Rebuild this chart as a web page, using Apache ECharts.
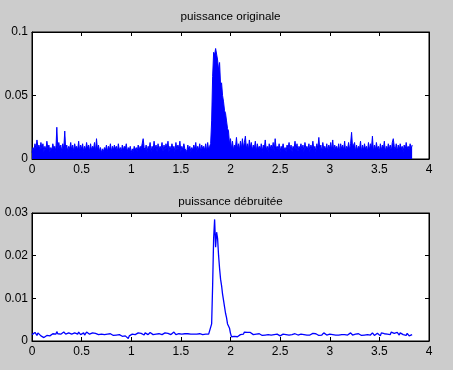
<!DOCTYPE html>
<html>
<head>
<meta charset="utf-8">
<script src="https://cdn.jsdelivr.net/npm/echarts@6/dist/echarts.min.js"></script>
<style>
html,body{margin:0;padding:0;background:#cccccc;}
#chart{width:453px;height:370px;}
</style>
</head>
<body>
<div id="chart"></div>
<script>
// Sample step along the x axis
const xStep = 0.01;

// Titles
const topTitle = 'puissance originale';
const bottomTitle = 'puissance débruitée';

// Tick settings
const xTicks = [0, 0.5, 1, 1.5, 2, 2.5, 3, 3.5, 4];
const topYTicks = [0, 0.05, 0.1];
const bottomYTicks = [0, 0.01, 0.02, 0.03];

// Original power (one value per 0.01 in x, from 0 to 3.83)
const originalPower = [
0.005,0.009,0.007,0.012,0.008,0.015,0.009,0.011,0.007,0.013,
0.008,0.012,0.006,0.010,0.007,0.014,0.008,0.011,0.006,0.009,
0.007,0.012,0.008,0.010,0.006,0.025,0.007,0.013,0.008,0.011,
0.006,0.012,0.008,0.022,0.007,0.011,0.006,0.010,0.008,0.013,
0.007,0.011,0.006,0.012,0.008,0.010,0.007,0.014,0.006,0.011,
0.008,0.012,0.006,0.010,0.007,0.013,0.008,0.011,0.006,0.012,
0.007,0.010,0.008,0.013,0.006,0.016,0.007,0.011,0.006,0.009,
0.005,0.008,0.006,0.009,0.007,0.011,0.006,0.010,0.007,0.012,
0.006,0.010,0.007,0.011,0.008,0.010,0.006,0.012,0.007,0.009,
0.006,0.011,0.007,0.010,0.008,0.012,0.006,0.009,0.007,0.010,
0.005,0.008,0.006,0.010,0.007,0.009,0.006,0.011,0.007,0.010,
0.008,0.012,0.016,0.009,0.007,0.011,0.006,0.010,0.008,0.013,
0.006,0.010,0.007,0.014,0.008,0.011,0.006,0.012,0.007,0.010,
0.008,0.013,0.006,0.011,0.007,0.012,0.008,0.014,0.006,0.010,
0.007,0.012,0.008,0.010,0.006,0.013,0.007,0.011,0.008,0.014,
0.006,0.010,0.007,0.012,0.008,0.009,0.006,0.011,0.007,0.010,
0.006,0.009,0.007,0.011,0.008,0.013,0.006,0.010,0.007,0.012,
0.006,0.011,0.008,0.010,0.007,0.012,0.006,0.013,0.007,0.010,
0.012,0.030,0.065,0.084,0.082,0.087,0.088,0.078,0.070,0.076,
0.058,0.060,0.050,0.045,0.038,0.036,0.030,0.024,0.022,0.012,
0.016,0.008,0.014,0.007,0.011,0.009,0.017,0.008,0.012,0.007,
0.014,0.008,0.016,0.009,0.013,0.018,0.008,0.012,0.007,0.015,
0.009,0.013,0.007,0.011,0.008,0.014,0.006,0.012,0.008,0.010,
0.007,0.012,0.006,0.011,0.008,0.015,0.007,0.010,0.006,0.012,
0.008,0.011,0.007,0.013,0.006,0.016,0.008,0.010,0.007,0.012,
0.006,0.010,0.008,0.012,0.007,0.009,0.006,0.011,0.008,0.013,
0.007,0.011,0.006,0.010,0.008,0.014,0.007,0.012,0.006,0.010,
0.008,0.012,0.007,0.011,0.006,0.013,0.008,0.010,0.007,0.012,
0.006,0.011,0.008,0.014,0.007,0.010,0.006,0.012,0.008,0.017,
0.007,0.011,0.006,0.013,0.008,0.010,0.007,0.012,0.006,0.011,
0.008,0.013,0.007,0.015,0.006,0.011,0.008,0.010,0.007,0.012,
0.006,0.012,0.008,0.011,0.007,0.014,0.006,0.010,0.008,0.013,
0.007,0.012,0.021,0.009,0.008,0.013,0.006,0.011,0.007,0.010,
0.008,0.014,0.006,0.011,0.007,0.012,0.008,0.010,0.006,0.013,
0.007,0.012,0.008,0.018,0.006,0.011,0.007,0.013,0.008,0.010,
0.006,0.012,0.007,0.011,0.008,0.014,0.006,0.010,0.007,0.012,
0.008,0.011,0.006,0.013,0.016,0.010,0.007,0.012,0.006,0.011,
0.007,0.012,0.008,0.010,0.006,0.011,0.007,0.013,0.008,0.010,
0.007,0.012,0.008,0.011
];

// Denoised power (one value per 0.01 in x, from 0 to 3.83)
const denoisedPower = [
0.0015,0.0018,0.0014,0.0020,0.0016,0.0013,0.0019,0.0015,0.0017,0.0012,
0.0014,0.0010,0.0008,0.0012,0.0010,0.0013,0.0011,0.0014,0.0012,0.0016,
0.0013,0.0017,0.0015,0.0019,0.0016,0.0022,0.0017,0.0020,0.0018,0.0016,
0.0019,0.0017,0.0021,0.0018,0.0016,0.0020,0.0017,0.0019,0.0015,0.0018,
0.0016,0.0020,0.0017,0.0019,0.0015,0.0018,0.0016,0.0021,0.0017,0.0015,
0.0018,0.0016,0.0019,0.0014,0.0017,0.0021,0.0025,0.0019,0.0016,0.0018,
0.0015,0.0019,0.0017,0.0022,0.0018,0.0016,0.0019,0.0015,0.0017,0.0014,
0.0016,0.0013,0.0017,0.0015,0.0018,0.0014,0.0016,0.0013,0.0015,0.0017,
0.0014,0.0016,0.0013,0.0015,0.0012,0.0014,0.0016,0.0013,0.0015,0.0012,
0.0014,0.0011,0.0013,0.0010,0.0012,0.0015,0.0013,0.0006,0.0012,0.0010,
0.0013,0.0016,0.0014,0.0018,0.0015,0.0017,0.0014,0.0019,0.0016,0.0015,
0.0018,0.0015,0.0017,0.0014,0.0019,0.0016,0.0018,0.0015,0.0017,0.0020,
0.0016,0.0018,0.0015,0.0017,0.0014,0.0016,0.0018,0.0015,0.0017,0.0016,
0.0018,0.0015,0.0017,0.0016,0.0019,0.0017,0.0015,0.0018,0.0016,0.0017,
0.0015,0.0018,0.0016,0.0021,0.0017,0.0015,0.0018,0.0016,0.0017,0.0015,
0.0017,0.0016,0.0018,0.0015,0.0017,0.0016,0.0018,0.0017,0.0015,0.0017,
0.0016,0.0018,0.0017,0.0016,0.0017,0.0015,0.0016,0.0017,0.0016,0.0017,
0.0016,0.0017,0.0015,0.0016,0.0017,0.0016,0.0015,0.0017,0.0016,0.0015,
0.0018,0.0040,0.0130,0.0240,0.0285,0.0220,0.0255,0.0240,0.0200,0.0170,
0.0145,0.0130,0.0110,0.0095,0.0080,0.0065,0.0055,0.0040,0.0035,0.0030,
0.0018,0.0010,0.0012,0.0008,0.0011,0.0007,0.0012,0.0010,0.0014,0.0012,
0.0015,0.0013,0.0018,0.0016,0.0021,0.0019,0.0024,0.0020,0.0022,0.0018,
0.0020,0.0017,0.0019,0.0015,0.0017,0.0014,0.0016,0.0013,0.0015,0.0017,
0.0014,0.0016,0.0013,0.0015,0.0017,0.0014,0.0016,0.0012,0.0015,0.0013,
0.0016,0.0014,0.0017,0.0013,0.0015,0.0018,0.0014,0.0016,0.0013,0.0015,
0.0012,0.0015,0.0013,0.0016,0.0014,0.0012,0.0015,0.0013,0.0017,0.0014,
0.0016,0.0013,0.0015,0.0018,0.0014,0.0017,0.0013,0.0016,0.0014,0.0015,
0.0013,0.0016,0.0014,0.0017,0.0015,0.0013,0.0016,0.0014,0.0015,0.0017,
0.0014,0.0016,0.0013,0.0018,0.0015,0.0021,0.0017,0.0014,0.0016,0.0013,
0.0015,0.0017,0.0014,0.0016,0.0019,0.0015,0.0017,0.0014,0.0016,0.0013,
0.0016,0.0014,0.0017,0.0015,0.0013,0.0016,0.0014,0.0015,0.0017,0.0014,
0.0016,0.0013,0.0015,0.0014,0.0017,0.0015,0.0013,0.0016,0.0014,0.0018,
0.0015,0.0019,0.0016,0.0014,0.0017,0.0013,0.0016,0.0014,0.0015,0.0017,
0.0014,0.0016,0.0013,0.0015,0.0017,0.0014,0.0016,0.0018,0.0015,0.0014,
0.0017,0.0014,0.0016,0.0019,0.0015,0.0013,0.0017,0.0015,0.0018,0.0014,
0.0016,0.0012,0.0019,0.0015,0.0022,0.0017,0.0014,0.0020,0.0016,0.0013,
0.0019,0.0015,0.0021,0.0017,0.0024,0.0018,0.0022,0.0016,0.0020,0.0017,
0.0014,0.0019,0.0016,0.0021,0.0015,0.0011,0.0017,0.0013,0.0018,0.0015,
0.0012,0.0016,0.0014,0.0015
];

function toPairs(values) {
  return values.map((v, i) => [i * xStep, v]);
}

const FONT = '"Liberation Sans", Arial, sans-serif';
const blue = '#0000ff';

function xAxisPair(gridIndex) {
  const common = {
    type: 'value', gridIndex: gridIndex,
    min: xTicks[0], max: xTicks[xTicks.length - 1],
    interval: xTicks[1] - xTicks[0],
    splitLine: { show: false },
    axisLine: { show: true, onZero: false, lineStyle: { color: '#000', width: 1 } },
    axisTick: { show: true, inside: true, length: 4, lineStyle: { color: '#000' } }
  };
  return [
    Object.assign({}, common, {
      position: 'bottom',
      axisLabel: { show: true, color: '#000', fontSize: 12, fontFamily: FONT, margin: 5,
        formatter: v => String(v) }
    }),
    Object.assign({}, common, { position: 'top', axisLabel: { show: false } })
  ];
}

function yAxisPair(gridIndex, ticks) {
  const common = {
    type: 'value', gridIndex: gridIndex,
    min: ticks[0], max: ticks[ticks.length - 1],
    interval: ticks[1] - ticks[0],
    splitLine: { show: false },
    axisLine: { show: true, onZero: false, lineStyle: { color: '#000', width: 1 } },
    axisTick: { show: true, inside: true, length: 4, lineStyle: { color: '#000' } }
  };
  return [
    Object.assign({}, common, {
      position: 'left',
      axisLabel: { show: true, color: '#000', fontSize: 12, fontFamily: FONT, margin: 4,
        formatter: v => String(parseFloat(v.toFixed(4))) }
    }),
    Object.assign({}, common, { position: 'right', axisLabel: { show: false } })
  ];
}

const chart = echarts.init(document.getElementById('chart'), null, { renderer: 'canvas' });
chart.setOption({
  animation: false,
  backgroundColor: '#cccccc',
  title: [
    { text: topTitle, left: 230.5, top: 11, textAlign: 'center', padding: 0,
      textStyle: { fontSize: 11.7, fontWeight: 'normal', color: '#000', fontFamily: FONT } },
    { text: bottomTitle, left: 230.5, top: 196, textAlign: 'center', padding: 0,
      textStyle: { fontSize: 11.7, fontWeight: 'normal', color: '#000', fontFamily: FONT } }
  ],
  grid: [
    { left: 32, top: 32, width: 397, height: 127, show: true, backgroundColor: '#fff',
      borderColor: '#000', borderWidth: 1, containLabel: false },
    { left: 32, top: 213, width: 397, height: 128, show: true, backgroundColor: '#fff',
      borderColor: '#000', borderWidth: 1, containLabel: false }
  ],
  xAxis: xAxisPair(0).concat(xAxisPair(1)),
  yAxis: yAxisPair(0, topYTicks).concat(yAxisPair(1, bottomYTicks)),
  series: [
    {
      type: 'line', xAxisIndex: 0, yAxisIndex: 0,
      data: toPairs(originalPower),
      showSymbol: false, symbol: 'none',
      lineStyle: { color: blue, width: 1 },
      areaStyle: { color: blue, opacity: 1, origin: 'start' },
      itemStyle: { color: blue }
    },
    {
      type: 'line', xAxisIndex: 2, yAxisIndex: 2,
      data: toPairs(denoisedPower),
      showSymbol: false, symbol: 'none',
      lineStyle: { color: blue, width: 1.3 },
      itemStyle: { color: blue }
    }
  ]
});
</script>
</body>
</html>
